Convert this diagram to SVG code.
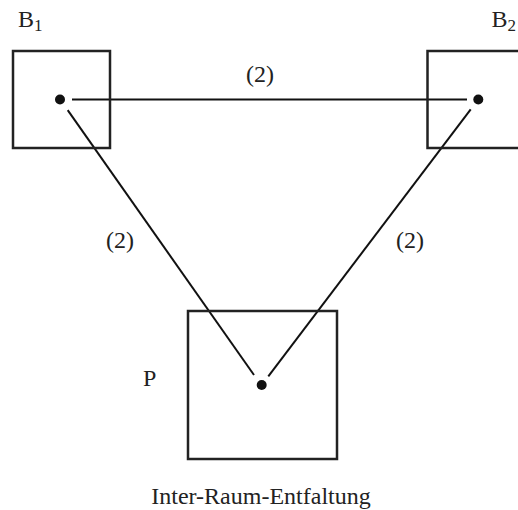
<svg xmlns="http://www.w3.org/2000/svg" width="518" height="510" viewBox="0 0 518 510">
<style>
.box{fill:none;stroke:#222;stroke-width:2.5}
.dot{fill:#111}
.ln{stroke:#111;stroke-width:2;fill:none}
.t{font-family:'Liberation Serif','DejaVu Serif','Times New Roman',serif;fill:#222;font-size:24px}
</style>
<rect width="518" height="510" fill="#fff"/>
<g id="connectors">
<line class="ln" x1="72" y1="99.5" x2="467" y2="99.5"/>
<line class="ln" x1="67.7" y1="110.2" x2="254" y2="375"/>
<line class="ln" x1="470.7" y1="109.3" x2="268.3" y2="376.4"/>
<text class="t" x="260" y="82" text-anchor="middle" font-family="Liberation Serif, DejaVu Serif, serif">(2)</text>
<text class="t" x="120" y="248" text-anchor="middle" font-family="Liberation Serif, DejaVu Serif, serif">(2)</text>
<text class="t" x="410" y="248" text-anchor="middle" font-family="Liberation Serif, DejaVu Serif, serif">(2)</text>
</g>
<g id="B1">
<rect class="box" x="13" y="51" width="97" height="97"/>
<circle class="dot" cx="60" cy="99.5" r="5"/>
<text class="t" x="18" y="27" font-family="Liberation Serif, DejaVu Serif, serif">B<tspan font-size="17" dy="4">1</tspan></text>
</g>
<g id="B2">
<rect class="box" x="427.5" y="51" width="97" height="97"/>
<circle class="dot" cx="478.3" cy="99.5" r="5"/>
<text class="t" x="491.5" y="27" font-family="Liberation Serif, DejaVu Serif, serif">B<tspan font-size="17" dy="4">2</tspan></text>
</g>
<g id="P">
<rect class="box" x="188" y="311" width="149" height="148"/>
<circle class="dot" cx="261.7" cy="385" r="5"/>
<text class="t" x="143" y="386" font-size="25" font-family="Liberation Serif, DejaVu Serif, serif">P</text>
</g>
<text class="t" x="261" y="504" text-anchor="middle" font-family="Liberation Serif, DejaVu Serif, serif">Inter-Raum-Entfaltung</text>
</svg>
